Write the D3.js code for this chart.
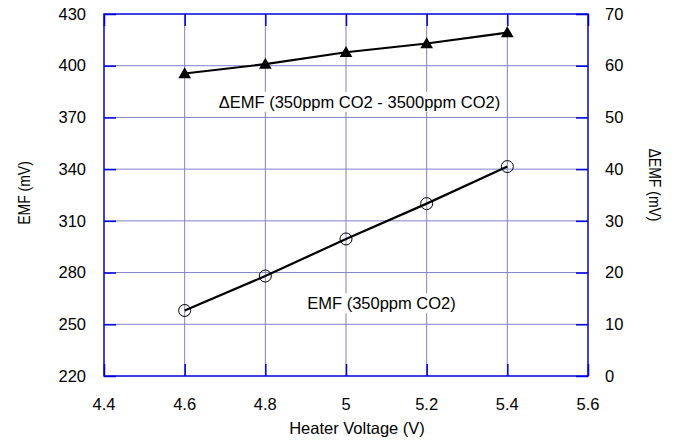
<!DOCTYPE html>
<html><head><meta charset="utf-8">
<script src="https://cdn.jsdelivr.net/npm/d3@7"></script>
<style>body{margin:0;background:#fff}text{font-family:"Liberation Sans",Arial,sans-serif}</style>
</head><body>
<svg id="c" width="674" height="445"></svg>
<script>
const voltage = [4.6, 4.8, 5.0, 5.2, 5.4];
const emf = [258, 278, 299.5, 320, 341.5];
const deltaEmf = [58.5, 60.3, 62.6, 64.3, 66.4];
const xTicks = [4.4, 4.6, 4.8, 5, 5.2, 5.4, 5.6];
const yLeftTicks = [220, 250, 280, 310, 340, 370, 400, 430];
const yRightTicks = [0, 10, 20, 30, 40, 50, 60, 70];

const svg = d3.select("#c");
const L = 104, R = 588, T = 14, B = 376;
const x = d3.scaleLinear().domain([4.4, 5.6]).range([L, R]);
const yL = d3.scaleLinear().domain([220, 430]).range([B, T]);
const yR = d3.scaleLinear().domain([0, 70]).range([B, T]);
const gridC = "#8080c8", frameC = "#0000dd";

// grid
const g = svg.append("g");
g.selectAll(".vx").data(xTicks.slice(1, -1)).join("line")
  .attr("x1", d => x(d)).attr("x2", d => x(d)).attr("y1", T).attr("y2", B)
  .attr("stroke", gridC).attr("stroke-width", 1);
g.selectAll(".hy").data(yLeftTicks.slice(1, -1)).join("line")
  .attr("y1", d => yL(d)).attr("y2", d => yL(d)).attr("x1", L).attr("x2", R)
  .attr("stroke", gridC).attr("stroke-width", 1);

// axes with inward ticks
const fs = "16.5px";
const axL = svg.append("g").attr("transform", `translate(${L},0)`)
  .call(d3.axisRight(yL).tickValues(yLeftTicks).tickSize(12).tickFormat(""));
const axR = svg.append("g").attr("transform", `translate(${R},0)`)
  .call(d3.axisLeft(yR).tickValues(yRightTicks).tickSize(12).tickFormat(""));
const axB = svg.append("g").attr("transform", `translate(0,${B})`)
  .call(d3.axisTop(x).tickValues(xTicks).tickSize(12).tickFormat(""));
const axT = svg.append("g").attr("transform", `translate(0,${T})`)
  .call(d3.axisBottom(x).tickValues(xTicks).tickSize(12).tickFormat(""));
[axL, axR, axB, axT].forEach(a => {
  a.select(".domain").remove();
  a.selectAll(".tick line").attr("stroke", frameC).attr("stroke-width", 1.5);
});
svg.append("rect").attr("x", L).attr("y", T).attr("width", R - L).attr("height", B - T)
  .attr("fill", "none").attr("stroke", frameC).attr("stroke-width", 1.5);

// tick labels
svg.append("g").selectAll("text").data(yLeftTicks).join("text")
  .attr("x", 86).attr("y", d => yL(d)).attr("dy", "0.35em").attr("text-anchor", "end")
  .attr("font-size", fs).text(d => d);
svg.append("g").selectAll("text").data(yRightTicks).join("text")
  .attr("x", 605).attr("y", d => yR(d)).attr("dy", "0.35em").attr("text-anchor", "start")
  .attr("font-size", fs).text(d => d);
svg.append("g").selectAll("text").data(xTicks).join("text")
  .attr("x", d => x(d)).attr("y", 404).attr("dy", "0.35em").attr("text-anchor", "middle")
  .attr("font-size", fs).text(d => d);

// axis titles
svg.append("text").attr("transform", "translate(30,193) scale(1.2,1) rotate(-90)").attr("text-anchor", "middle")
  .attr("font-size", "14px").text("EMF (mV)");
svg.append("text").attr("transform", "translate(649,185) scale(1.2,1) rotate(90)").attr("text-anchor", "middle")
  .attr("font-size", "14px").text("\u0394EMF (mV)");
svg.append("text").attr("x", 357).attr("y", 428).attr("dy", "0.35em").attr("text-anchor", "middle")
  .attr("font-size", fs).text("Heater Voltage (V)");

// series labels with white background
function label(txt, cx, cy) {
  const t = svg.append("text").attr("x", cx).attr("y", cy).attr("dy", "0.35em")
    .attr("text-anchor", "middle").attr("font-size", fs).text(txt);
  const b = t.node().getBBox();
  svg.insert("rect", () => t.node()).attr("x", b.x - 3).attr("y", b.y - 1)
    .attr("width", b.width + 6).attr("height", b.height + 2).attr("fill", "#fff");
}
label("\u0394EMF (350ppm CO2 - 3500ppm CO2)", 359.5, 102);
label("EMF (350ppm CO2)", 381.5, 303.5);

// lines
const lineL = d3.line().x((d, i) => x(voltage[i])).y(d => yL(d));
const lineR = d3.line().x((d, i) => x(voltage[i])).y(d => yR(d));
svg.append("path").attr("d", lineL(emf)).attr("fill", "none").attr("stroke", "#000").attr("stroke-width", 2.2);
svg.append("path").attr("d", lineR(deltaEmf)).attr("fill", "none").attr("stroke", "#000").attr("stroke-width", 2.2);

// markers
svg.append("g").selectAll("circle").data(emf).join("circle")
  .attr("cx", (d, i) => x(voltage[i])).attr("cy", d => yL(d)).attr("r", 6)
  .attr("fill", "none").attr("stroke", "#000").attr("stroke-width", 1);
const tri = d3.symbol().type(d3.symbolTriangle).size(70);
svg.append("g").selectAll("path").data(deltaEmf).join("path")
  .attr("d", tri).attr("transform", (d, i) => `translate(${x(voltage[i])},${yR(d) + 1})`)
  .attr("fill", "#000");
</script>
</body></html>
